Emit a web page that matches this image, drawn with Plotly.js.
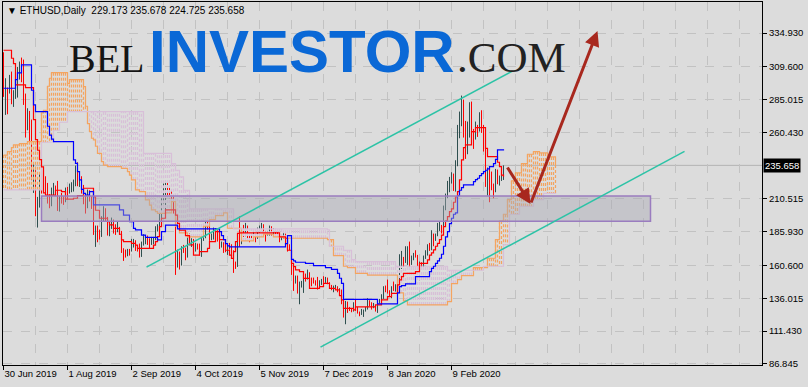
<!DOCTYPE html>
<html>
<head>
<meta charset="utf-8">
<script src="https://cdn.plot.ly/plotly-3.0.1.min.js"></script>
<style>
html,body{margin:0;padding:0;background:#dcdcdc;overflow:hidden;}
#chart{width:808px;height:387px;}
</style>
</head>
<body>
<div id="chart"></div>
<script>
// ===== ETHUSD Daily bars, one per day starting 30 Jun 2019 =====
const firstDay = '2019-06-30';
const opens = [
319.0,290.3,293.5,291.0,302.5,283.0,287.5,288.5,307.0,312.5,
307.5,288.0,268.0,275.5,268.5,228.5,229.5,199.5,211.0,227.5,
221.0,226.0,219.5,213.0,211.5,216.0,219.0,218.0,206.0,211.0,
210.5,209.0,218.0,217.0,217.5,222.0,222.0,232.5,224.0,226.5,
219.5,210.5,206.0,216.0,210.5,208.5,187.0,188.0,184.5,183.0,
194.5,202.5,196.0,187.0,191.0,194.5,190.0,186.5,187.5,186.0,
173.0,169.0,169.0,172.0,171.5,178.0,178.5,174.5,173.5,168.0,
177.0,181.0,181.0,179.5,178.5,180.0,180.5,188.0,189.5,197.5,
208.0,210.5,220.5,218.0,215.0,211.5,201.0,166.0,169.5,166.0,
174.0,173.5,169.0,180.5,177.0,180.5,175.0,176.0,175.5,170.0,
180.0,182.5,193.0,191.0,180.5,181.0,186.0,186.5,180.0,175.0,
177.5,172.5,172.0,175.5,174.0,170.5,161.5,160.5,181.0,179.0,
184.0,183.5,190.0,183.5,182.5,182.5,183.0,181.5,186.5,189.0,
191.0,186.0,183.5,184.5,189.5,185.0,187.5,187.0,184.0,180.0,
182.0,184.0,176.5,174.5,174.0,161.0,150.0,152.5,140.5,147.0,
147.5,152.0,150.5,155.5,151.0,150.5,148.5,147.5,146.0,148.0,
149.5,148.0,150.5,147.5,145.0,143.5,144.5,144.5,141.5,142.0,
132.5,122.0,132.5,128.5,128.0,126.5,132.5,128.0,125.5,124.5,
125.5,126.5,128.0,134.5,131.5,129.0,130.5,127.0,134.0,134.5,
136.0,144.0,143.0,141.5,138.0,144.0,142.5,146.0,144.0,165.5,
166.0,164.0,171.5,174.0,166.5,167.0,169.0,168.0,162.0,162.5,
160.5,167.5,170.0,175.5,173.5,184.0,180.0,183.5,189.0,189.5,
189.0,204.0,212.5,222.5,223.5,228.5,222.5,236.5,265.0,268.5,
284.0,265.0,260.5,266.5,281.0,259.5,257.0,265.0,261.5,274.0,
265.0,248.0,224.5,227.5,226.0,218.5,217.5,231.0,224.0,224.5,
229.173];
const highs = [
320.5,301.0,294.0,303.5,306.0,292.0,299.0,309.5,313.5,316.5,
315.0,289.5,278.5,276.5,270.0,237.0,232.0,212.0,229.5,229.0,
234.5,227.5,222.5,214.0,219.0,222.5,220.5,224.0,212.5,215.0,
212.5,219.0,219.5,222.0,223.0,225.0,235.5,238.0,230.0,227.5,
221.0,214.0,217.5,217.0,212.5,209.5,190.5,190.5,187.5,197.5,
205.0,203.5,197.0,193.0,196.5,195.0,191.5,193.5,189.5,186.5,
173.5,172.5,173.0,173.0,180.5,180.5,179.5,175.5,177.0,178.5,
184.0,182.5,183.0,181.0,182.0,182.0,190.0,191.5,199.5,212.5,
222.0,224.0,222.5,219.5,216.5,213.5,202.0,172.5,171.0,175.0,
176.0,174.0,181.5,184.5,181.0,180.5,177.5,177.0,177.0,182.0,
185.0,195.5,195.5,193.5,184.5,189.0,188.5,187.0,181.0,178.5,
178.0,174.5,176.5,177.5,176.5,172.0,163.5,184.0,197.5,186.5,
191.0,192.5,190.5,185.0,184.5,185.5,184.0,189.0,190.5,192.5,
191.5,186.5,186.5,190.5,190.0,188.5,188.0,187.5,185.0,183.0,
186.0,184.5,177.0,176.5,174.5,162.0,153.0,153.0,148.5,149.0,
155.5,154.5,157.5,155.5,151.5,151.5,149.5,152.0,149.5,150.5,
152.5,152.0,151.5,148.0,146.0,145.5,146.0,145.0,143.5,142.5,
134.0,134.0,133.5,129.5,128.5,133.0,135.5,129.5,126.0,128.0,
127.5,129.5,136.0,134.5,133.0,132.5,130.5,135.0,135.5,139.0,
145.0,145.5,150.0,142.0,145.0,148.5,146.5,146.5,169.0,171.5,
167.0,175.0,175.0,178.5,168.0,170.0,172.0,168.5,163.5,163.0,
168.0,172.0,176.5,177.5,187.0,184.5,184.5,192.5,193.5,191.0,
205.5,214.5,224.0,227.0,230.5,229.5,239.5,266.0,276.0,288.0,
285.0,269.0,268.5,283.0,283.5,263.0,268.5,266.0,275.5,277.0,
266.0,249.0,234.0,233.0,231.0,222.0,233.0,232.5,228.0,231.5,
235.678];
const lows = [
287.0,273.5,274.0,289.5,281.5,279.5,285.5,286.5,300.0,298.0,
281.0,256.5,262.0,254.0,224.5,215.0,197.5,189.0,204.0,214.5,
218.0,213.5,207.0,203.5,205.0,213.0,212.5,201.5,201.0,207.0,
206.0,208.0,210.0,214.5,215.5,216.0,220.0,220.0,219.5,214.5,
206.5,199.5,203.5,208.5,203.0,183.5,174.5,178.0,180.0,182.0,
193.5,193.5,183.0,182.5,188.0,184.5,183.5,185.5,183.5,170.0,
164.0,166.5,167.5,168.0,171.0,174.0,171.5,171.0,166.5,167.0,
175.5,176.5,176.0,173.5,176.0,176.5,179.5,186.0,188.0,196.0,
207.0,200.5,212.0,211.0,208.0,199.5,153.5,159.0,157.5,160.5,
170.0,164.5,166.5,176.0,174.5,172.0,171.0,172.5,168.0,167.0,
179.0,181.0,187.5,179.0,179.5,180.0,183.0,178.5,173.0,174.0,
170.0,170.5,168.5,172.5,168.5,155.0,158.0,159.5,174.5,176.5,
182.0,182.5,180.5,178.0,179.5,182.0,178.0,180.5,185.0,187.0,
183.5,178.5,183.0,183.0,183.0,183.5,184.0,182.5,178.0,179.5,
180.5,175.0,171.0,172.0,153.5,141.5,147.0,139.5,131.5,144.0,
140.0,148.5,150.0,149.5,145.0,147.0,145.5,142.5,145.0,146.0,
147.5,147.5,146.5,143.5,142.0,140.5,143.5,140.5,140.0,131.5,
121.5,116.5,125.0,126.5,125.5,126.0,126.5,124.5,122.5,123.5,
122.0,126.0,127.5,130.0,127.5,128.5,126.0,125.0,132.0,134.0,
135.5,140.5,139.5,137.0,136.0,141.5,141.0,141.5,143.5,158.0,
159.5,162.5,161.0,159.5,161.0,164.5,166.5,160.0,155.5,158.5,
159.0,165.5,168.0,171.5,172.0,175.0,179.0,182.5,186.5,184.5,
188.0,202.0,211.0,215.5,222.0,216.5,216.0,235.0,256.0,265.0,
256.5,240.5,244.0,256.5,257.5,248.0,255.0,257.0,261.0,260.0,
246.0,219.5,213.0,208.0,217.0,211.0,215.5,221.5,220.5,224.0,
224.725];
const closes = [
290.3,293.5,291.0,302.5,283.0,287.5,288.5,307.0,312.5,307.5,
288.0,268.0,275.5,268.5,228.5,229.5,199.5,211.0,227.5,221.0,
226.0,219.5,213.0,211.5,216.0,219.0,218.0,206.0,211.0,210.5,
209.0,218.0,217.0,217.5,222.0,222.0,232.5,224.0,226.5,219.5,
210.5,206.0,216.0,210.5,208.5,187.0,188.0,184.5,183.0,194.5,
202.5,196.0,187.0,191.0,194.5,190.0,186.5,187.5,186.0,173.0,
169.0,169.0,172.0,171.5,178.0,178.5,174.5,173.5,168.0,177.0,
181.0,181.0,179.5,178.5,180.0,180.5,188.0,189.5,197.5,208.0,
210.5,220.5,218.0,215.0,211.5,201.0,166.0,169.5,166.0,174.0,
173.5,169.0,180.5,177.0,180.5,175.0,176.0,175.5,170.0,180.0,
182.5,193.0,191.0,180.5,181.0,186.0,186.5,180.0,175.0,177.5,
172.5,172.0,175.5,174.0,170.5,161.5,160.5,181.0,179.0,184.0,
183.5,190.0,183.5,182.5,182.5,183.0,181.5,186.5,189.0,191.0,
186.0,183.5,184.5,189.5,185.0,187.5,187.0,184.0,180.0,182.0,
184.0,176.5,174.5,174.0,161.0,150.0,152.5,140.5,147.0,147.5,
152.0,150.5,155.5,151.0,150.5,148.5,147.5,146.0,148.0,149.5,
148.0,150.5,147.5,145.0,143.5,144.5,144.5,141.5,142.0,132.5,
122.0,132.5,128.5,128.0,126.5,132.5,128.0,125.5,124.5,125.5,
126.5,128.0,134.5,131.5,129.0,130.5,127.0,134.0,134.5,136.0,
144.0,143.0,141.5,138.0,144.0,142.5,146.0,144.0,165.5,166.0,
164.0,171.5,174.0,166.5,167.0,169.0,168.0,162.0,162.5,160.5,
167.5,170.0,175.5,173.5,184.0,180.0,183.5,189.0,189.5,189.0,
204.0,212.5,222.5,223.5,228.5,222.5,236.5,265.0,268.5,284.0,
265.0,260.5,266.5,281.0,259.5,257.0,265.0,261.5,274.0,265.0,
248.0,224.5,227.5,226.0,218.5,217.5,231.0,224.0,224.5,229.173,
235.658];

// ===== Ichimoku lines (day index where the step starts, value) =====
const tenkanDay = [0,4,5,6,11,15,16,17,18,19,20,21,26,29,31,35,37,40,45,46,48,52,53,55,58,59,60,64,66,67,75,76,77,78,79,81,86,87,88,91,93,95,98,102,103,106,108,111,113,114,115,116,117,118,138,141,142,144,145,146,148,150,153,158,160,163,166,168,169,170,175,176,186,189,192,194,197,198,199,200,206,208,212,213,214,215,216,217,218,219,220,221,222,223,224,225,226,227,228,229,230,231,234,236,241,242,247,248,249,250];
const tenkanVal = [322,316,312,296,294,270,255,247,240,234.5,215,213.4,217,216,210.4,211,213,218.5,212,202,196,193.4,191,188.4,184,179.7,178.4,177.2,175.9,173.4,175.9,178.4,182.2,189.7,196,202.2,198.4,192.2,187,183,176,168.4,170.9,173.4,178.4,185.9,180,172,168.4,165.9,170.9,178.4,184.7,185,182,181,172,162.2,159.7,157.2,156,150.9,143.4,144.7,147.2,143.4,142.2,138,134.7,128.4,127.2,129.5,131,134.7,137.2,139.7,146,149.7,152.2,154.7,156,162.2,164.7,168.4,170,172.2,175,177.2,180,183.4,189.7,194,197.2,200.9,203,208,212,216,224.7,239.7,249,251,260.9,264,248.4,242.2,238,234.7,228.4,227.2];
const kijunDay = [0,6,7,9,14,15,16,22,23,24,25,35,36,37,38,39,40,41,43,45,58,60,63,65,66,69,71,77,79,81,87,108,109,110,111,112,113,141,142,144,145,146,151,155,161,164,167,168,169,170,187,197,198,199,201,206,213,214,215,216,217,218,219,220,221,222,223,224,225,226,227,228,229,230,235,236,237,238,239,240,241,242,243,245,246,247,250];
const kijunVal = [293.5,300,305,311,292,281,276,265,258.4,255.4,253.4,239.7,237.2,231,224.7,217.7,214.7,213.4,215.9,206,202.2,198.4,193.4,188.4,187.2,183.4,181.7,179.7,186,190.9,188,186,183,180,177,175.2,174.5,177,183,165.2,164,163,162.2,160.5,159,157.7,154.7,151,147.2,135.2,131.7,140,144.7,145.5,146.7,152.2,156,158.4,160,162.2,164,166,169,175,182,186,192,196,199,200,213,217,219,221,223.4,225,226,228,229.5,231,232,233,234.7,237,240.2,247.2,247.7];
// Senkou spans as plotted (already shifted 26 days ahead)
const spanADay = [0,2,4,5,8,12,19,20,22,23,24,32,33,40,41,42,43,44,45,46,47,49,50,52,59,62,63,64,66,68,71,73,74,76,77,81,84,86,88,92,100,103,106,110,112,119,125,130,135,140,162,165,170,172,176,182,197,200,202,222,224,227,229,235,242,246,248,250,252,254,256,259,262,265,268,272,276];
const spanAVal = [243.4,246,249,251,252,253.4,275,277,295,301,305.2,297.2,300,294.7,280,267,261,256,254.7,250,244.7,238.4,235.9,234.7,233.4,230.9,228.4,224.7,217.2,215.9,209.7,205.9,202.2,200.9,199.7,200,208.4,190,185,182,190,195,198,200,188.5,179,182,184,182,181,180,168,160,158.9,154.7,153.4,140,134,131,133.4,147,150,153,159,166,180,194,199,210,224,230,237,244,246,245,242,236];
const spanBDay = [0,19,25,28,32,40,70,84,86,88,90,93,115,162,163,170,174,176,196,222,240,250,253,258,265,270,276];
const spanBVal = [217.2,253,262,268,276,275.9,244.7,237,232,227,217,203,188,187.2,175,172,165,163.4,160,157,160,176,199,205,210,214.7,215];

// axis labels
const yTickVals = [334.930,309.600,285.015,260.430,210.515,185.930,160.600,136.015,111.430,86.845];
const yTickText = ['334.930','309.600','285.015','260.430','210.515','185.930','160.600','136.015','111.430','86.845'];
const xLabelDays = [0,32,64,96,128,160,192,224];
const lastPrice = 235.658;
const headerText = '\u25BC ETHUSD,Daily\u00a0\u00a0229.173 235.678 224.725 235.658';

// drawn objects (day index, price)
const zoneBox = {d0:19, d1:323.5, p0:193.7, p1:212.7};
const upperChannel = {d0:71.5, p0:159.4, d1:254.5, p1:306.4};
const lowerChannel = {d0:158.5, p0:99.4, d1:340.5, p1:246.1};
const arrowDown = {d0:251.5, p0:235.2, d1:263.5, p1:206.7};
const arrowUp = {d0:263.5, p0:206.7, d1:297, p1:336.4};

// ===== helpers =====
const DAY = 86400000;
const T0 = Date.parse(firstDay + 'T00:00:00Z');
function dt(i){ return new Date(T0 + i*DAY).toISOString().slice(0,19).replace('T',' '); }
function stepAt(days, vals, j){ let v = vals[0]; for(let k=0;k<days.length;k++){ if(days[k] <= j) v = vals[k]; else break; } return v; }
const dates = opens.map((_, i) => dt(i));

// cloud hatch (dotted verticals between the spans)
const hatchUp = {x:[], y:[]}, hatchDn = {x:[], y:[]};
const lastSpanDay = spanADay[spanADay.length-1];
for(let j=0;j<=lastSpanDay;j++){
  const a = stepAt(spanADay, spanAVal, j), b = stepAt(spanBDay, spanBVal, j);
  const t = a >= b ? hatchUp : hatchDn;
  t.x.push(dt(j), dt(j), null); t.y.push(a, b, null);
}

const traces = [
  {type:'scatter', mode:'lines', x:hatchUp.x, y:hatchUp.y, line:{color:'#f4a460', width:1.2, dash:'3px,2px'}, hoverinfo:'skip', connectgaps:false},
  {type:'scatter', mode:'lines', x:hatchDn.x, y:hatchDn.y, line:{color:'#d8bfd8', width:1.2, dash:'3px,2px'}, hoverinfo:'skip', connectgaps:false},
  {type:'scatter', mode:'lines', x:spanADay.map(dt), y:spanAVal, line:{color:'#f4a460', width:1.2, shape:'hv'}, hoverinfo:'skip'},
  {type:'scatter', mode:'lines', x:spanBDay.map(dt), y:spanBVal, line:{color:'#d8bfd8', width:1.2, shape:'hv'}, hoverinfo:'skip'},
  {type:'ohlc', x:dates, open:opens, high:highs, low:lows, close:closes, tickwidth:0,
   increasing:{line:{color:'#2f4f4f', width:1}}, decreasing:{line:{color:'#ff0000', width:1}}, hoverinfo:'skip'},
  {type:'scatter', mode:'lines', x:tenkanDay.map(dt), y:tenkanVal, line:{color:'#ff0000', width:1.2, shape:'hv'}, hoverinfo:'skip'},
  {type:'scatter', mode:'lines', x:kijunDay.map(dt), y:kijunVal, line:{color:'#0000ff', width:1.2, shape:'hv'}, hoverinfo:'skip'}
];

// pixel helpers for the watermark (plot area 3..762 x 2..365)
function px(x){ return (x-3)/759; }
function py(y){ return 1-(y-2)/363; }

const layout = {
  width:808, height:387,
  margin:{l:3, r:46, t:2, b:22, pad:0},
  paper_bgcolor:'#dcdcdc', plot_bgcolor:'#dcdcdc',
  showlegend:false,
  font:{family:'Liberation Sans, Arial, sans-serif', size:9.5, color:'#000'},
  xaxis:{type:'date', range:[dt(-0.25), dt(379.25)], tickmode:'array', tickvals:xLabelDays.map(dt),
    tickformat:'%-d %b %Y', ticklabelposition:'outside right', ticks:'outside', ticklen:4, tickcolor:'#000',
    tickfont:{size:9.5}, showgrid:true, gridcolor:'#c2c2c2', griddash:'dash', gridwidth:1,
    minor:{tick0:dt(0), dtick:16*DAY, showgrid:true, gridcolor:'#c2c2c2', griddash:'dash', ticks:''},
    showline:true, mirror:true, linecolor:'#000', linewidth:1, zeroline:false, rangeslider:{visible:false}},
  yaxis:{side:'right', range:[85.93, 358.18], tickmode:'array', tickvals:yTickVals, ticktext:yTickText,
    ticks:'outside', ticklen:4, tickcolor:'#000', tickfont:{size:9.5},
    showgrid:true, gridcolor:'#c2c2c2', griddash:'dash', gridwidth:1,
    showline:true, mirror:true, linecolor:'#000', linewidth:1, zeroline:false},
  shapes:[
    {type:'line', xref:'paper', x0:0, x1:1, yref:'y', y0:lastPrice, y1:lastPrice, line:{color:'#b4b4b4', width:1}, layer:'below'},
    {type:'rect', xref:'x', yref:'y', x0:dt(zoneBox.d0), x1:dt(zoneBox.d1), y0:zoneBox.p0, y1:zoneBox.p1,
     fillcolor:'rgba(168,168,180,0.45)', line:{color:'#9a7cbf', width:1.5}, layer:'above'},
    {type:'line', xref:'x', yref:'y', x0:dt(upperChannel.d0), y0:upperChannel.p0, x1:dt(upperChannel.d1), y1:upperChannel.p1, line:{color:'#2cc3a6', width:1.5}},
    {type:'line', xref:'x', yref:'y', x0:dt(lowerChannel.d0), y0:lowerChannel.p0, x1:dt(lowerChannel.d1), y1:lowerChannel.p1, line:{color:'#2cc3a6', width:1.5}}
  ],
  annotations:[
    // watermark: BEL (ends before INVESTOR), INVESTOR, .COM (starts after INVESTOR); baseline ~ y 72
    {xref:'paper', yref:'paper', x:px(146), y:py(58.5), xanchor:'right', yanchor:'middle', showarrow:false, text:'BEL',
     borderpad:0, font:{family:'Liberation Serif, Times New Roman, serif', size:40, color:'#151515'}},
    {xref:'paper', yref:'paper', x:px(301.5), y:py(51.5), xanchor:'center', yanchor:'middle', showarrow:false, text:'INVESTOR',
     borderpad:0, font:{family:'Liberation Sans, Arial, sans-serif', size:60, color:'#0a68d6', weight:700}},
    {xref:'paper', yref:'paper', x:px(456), y:py(57.2), xanchor:'left', yanchor:'middle', showarrow:false, text:'.COM',
     borderpad:0, font:{family:'Liberation Serif, Times New Roman, serif', size:43, color:'#222222'}},
    {xref:'paper', yref:'paper', x:0, y:1, xshift:3, yshift:-2, xanchor:'left', yanchor:'top', showarrow:false, text:headerText,
     borderpad:0, font:{family:'Liberation Sans, Arial, sans-serif', size:10, color:'#000'}},
    {xref:'paper', yref:'y', x:1, y:lastPrice, xanchor:'left', yanchor:'middle', xshift:1, showarrow:false, text:'235.658',
     bgcolor:'#000000', borderpad:1, font:{family:'Liberation Sans, Arial, sans-serif', size:9.5, color:'#ffffff'}},
    {xref:'x', yref:'y', axref:'x', ayref:'y', x:dt(arrowDown.d1), y:arrowDown.p1, ax:dt(arrowDown.d0), ay:arrowDown.p0,
     showarrow:true, text:'', arrowhead:2, arrowsize:1, arrowwidth:3, arrowcolor:'#a8281e', standoff:0},
    {xref:'x', yref:'y', axref:'x', ayref:'y', x:dt(arrowUp.d1), y:arrowUp.p1, ax:dt(arrowUp.d0), ay:arrowUp.p0,
     showarrow:true, text:'', arrowhead:2, arrowsize:1, arrowwidth:3, arrowcolor:'#a8281e', standoff:0}
  ]
};

Plotly.newPlot('chart', traces, layout, {staticPlot:true, displayModeBar:false});
</script>
</body>
</html>
